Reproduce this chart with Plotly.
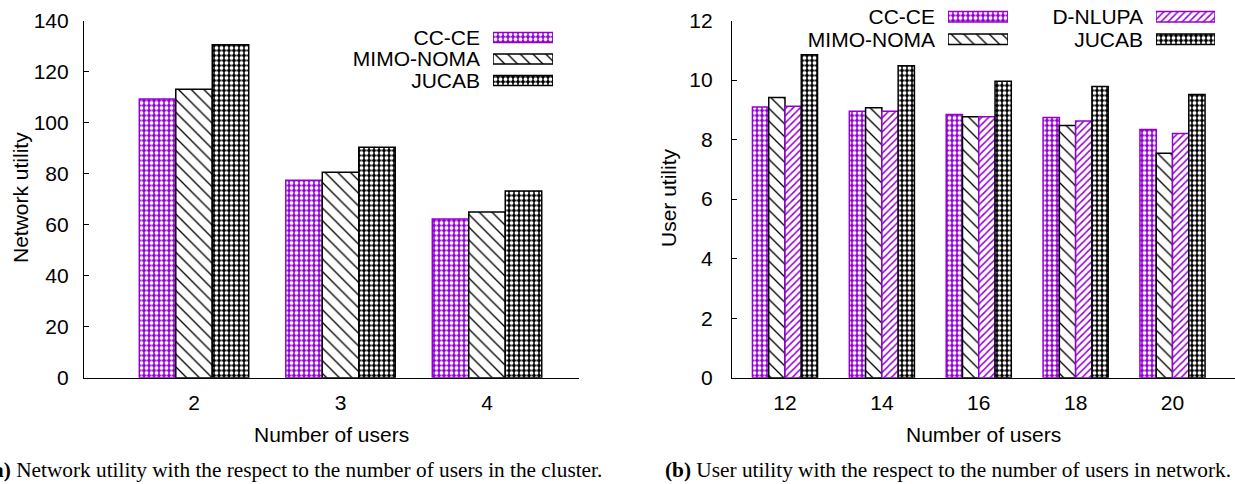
import plotly.graph_objects as go

W, H = 1235, 484

# ---------------- data ----------------
users_a = [2, 3, 4]
cc_ce_a = [109.2, 77.4, 62.2]
mimo_a = [113.1, 80.5, 64.9]
jucab_a = [130.5, 90.3, 73.2]

users_b = [12, 14, 16, 18, 20]
cc_ce_b = [9.09, 8.95, 8.84, 8.74, 8.34]
mimo_b = [9.41, 9.07, 8.77, 8.47, 7.54]
dnlupa_b = [9.12, 8.95, 8.77, 8.62, 8.20]
jucab_b = [10.85, 10.48, 9.96, 9.78, 9.51]

yticks_a = [0, 20, 40, 60, 80, 100, 120, 140]
yticks_b = [0, 2, 4, 6, 8, 10, 12]

names_a = ["CC-CE", "MIMO-NOMA", "JUCAB"]
names_b_col1 = ["CC-CE", "MIMO-NOMA"]
names_b_col2 = ["D-NLUPA", "JUCAB"]
legend_key = [1]  # full-length legend key sample

# ---------------- styles ----------------
PURPLE = "#9400D3"
FONT = "Liberation Sans"
styles = {
    # white dots on solid colour -> dense crosshatch look
    "CC-CE": dict(shape=".", fg="white", bg=PURPLE, size=5, sol=0.45, line=PURPLE),
    "MIMO-NOMA": dict(shape="\\", fg="black", bg="white", size=9, sol=0.15, line="black"),
    "D-NLUPA": dict(shape="/", fg=PURPLE, bg="white", size=5, sol=0.3, line=PURPLE),
    "JUCAB": dict(shape=".", fg="white", bg="black", size=5, sol=0.45, line="black"),
}


def marker(name):
    s = styles[name]
    return dict(
        color=s["bg"],
        pattern=dict(shape=s["shape"], fgcolor=s["fg"], bgcolor=s["bg"],
                     size=s["size"], solidity=s["sol"], fillmode="replace"),
        line=dict(color=s["line"], width=1.5),
    )


def px(x):
    return x / W


def py(y):
    return 1 - y / H


fig = go.Figure()

# ---------- panel (a) ----------
bw_a = 0.249
series_a = [("CC-CE", cc_ce_a), ("MIMO-NOMA", mimo_a), ("JUCAB", jucab_a)]
n = len(series_a)
for i, (nm, vals) in enumerate(series_a):
    fig.add_trace(go.Bar(x=users_a, y=vals, name=nm, width=bw_a,
                         offset=-n * bw_a / 2 + i * bw_a, marker=marker(nm),
                         xaxis="x", yaxis="y", showlegend=False))

# ---------- panel (b) ----------
bw_b = 0.336
series_b = [("CC-CE", cc_ce_b), ("MIMO-NOMA", mimo_b), ("D-NLUPA", dnlupa_b), ("JUCAB", jucab_b)]
n = len(series_b)
for i, (nm, vals) in enumerate(series_b):
    fig.add_trace(go.Bar(x=users_b, y=vals, name=nm, width=bw_b,
                         offset=-n * bw_b / 2 + i * bw_b, marker=marker(nm),
                         xaxis="x2", yaxis="y2", showlegend=False))

# ---------- legend keys (gnuplot style: text left, sample right) ----------
def legend_block(names, xa, ya):
    for nm in names:
        fig.add_trace(go.Bar(x=legend_key, y=[nm], orientation="h", width=0.46,
                             marker=marker(nm), xaxis=xa, yaxis=ya,
                             showlegend=False, hoverinfo="skip"))


legend_block(names_a, "x3", "y3")
legend_block(names_b_col1, "x4", "y4")
legend_block(names_b_col2, "x5", "y5")

tickfont = dict(family=FONT, size=21, color="black")
ydom = [py(377.7), py(20.5)]

common_x = dict(showline=True, linecolor="black", linewidth=1.2, ticks="",
                showgrid=False, zeroline=False, tickfont=tickfont, automargin=False)
common_y = dict(showline=True, linecolor="black", linewidth=1.2, ticks="inside",
                ticklen=5, tickcolor="black", showgrid=False, zeroline=False,
                tickfont=tickfont, automargin=False)


def leg_axes(names, x0, x1, ymid, row=22.5):
    k = len(names)
    return (
        dict(domain=[px(x0), px(x1)], range=[0, 1], visible=False, fixedrange=True,
             automargin=False),
        dict(domain=[py(ymid + k * row / 2), py(ymid - k * row / 2)], type="category",
             categoryorder="array", categoryarray=list(reversed(names)),
             tickmode="array", tickvals=names, ticktext=names,
             range=[-0.5, k - 0.5], showline=False, ticks="", showgrid=False,
             zeroline=False, tickfont=dict(family=FONT, size=21, color="black"),
             ticklabelstandoff=12, automargin=False, fixedrange=True),
    )


x3, y3 = leg_axes(names_a, 493, 553, 59, row=21.5)
x4, y4 = leg_axes(names_b_col1, 948, 1008, 28)
x5, y5 = leg_axes(names_b_col2, 1156, 1215, 28)

fig.update_layout(
    width=W, height=H,
    margin=dict(l=0, r=0, t=0, b=0, pad=0, autoexpand=False),
    paper_bgcolor="white", plot_bgcolor="rgba(0,0,0,0)",
    barmode="overlay",
    xaxis=dict(common_x, domain=[px(84), px(579)], range=[1.249, 4.628],
               tickvals=users_a, anchor="y", ticklabelstandoff=6),
    yaxis=dict(common_y, domain=ydom, range=[0, 140], tickvals=yticks_a,
               anchor="x", ticklabelstandoff=10),
    xaxis2=dict(common_x, domain=[px(732), 1.0], range=[10.906, 21.29],
                tickvals=users_b, anchor="y2", ticklabelstandoff=6),
    yaxis2=dict(common_y, domain=ydom, range=[0, 12], tickvals=yticks_b,
                anchor="x2", ticklabelstandoff=14),
    xaxis3=dict(x3, anchor="y3"), yaxis3=dict(y3, anchor="x3"),
    xaxis4=dict(x4, anchor="y4"), yaxis4=dict(y4, anchor="x4"),
    xaxis5=dict(x5, anchor="y5"), yaxis5=dict(y5, anchor="x5"),
    showlegend=False,
)

ann_font = dict(family=FONT, size=21, color="black")
cap_font = dict(family="Liberation Serif", size=21.3, color="black")
common_ann = dict(xref="paper", yref="paper", showarrow=False, yanchor="middle")
fig.add_annotation(text="Network utility", textangle=-90, x=px(20), y=py(198),
                   font=ann_font, xanchor="center", **common_ann)
fig.add_annotation(text="User utility", textangle=-90, x=px(668), y=py(198),
                   font=ann_font, xanchor="center", **common_ann)
fig.add_annotation(text="Number of users", x=px(331.5), y=py(434),
                   font=ann_font, xanchor="center", **common_ann)
fig.add_annotation(text="Number of users", x=px(983.5), y=py(434),
                   font=ann_font, xanchor="center", **common_ann)
fig.add_annotation(text="<b>(a)</b> Network utility with the respect to the number of users in the cluster.",
                   x=px(604), y=py(470), xanchor="right", font=cap_font, **common_ann)
fig.add_annotation(text="<b>(b)</b> User utility with the respect to the number of users in network.",
                   x=px(663), y=py(470), xanchor="left", font=cap_font, **common_ann)

fig.write_html(
    "out.html",
    config={"displayModeBar": False},
    post_script="document.body.style.margin='0';document.body.style.padding='0';"
                "document.body.style.overflow='hidden';",
)
